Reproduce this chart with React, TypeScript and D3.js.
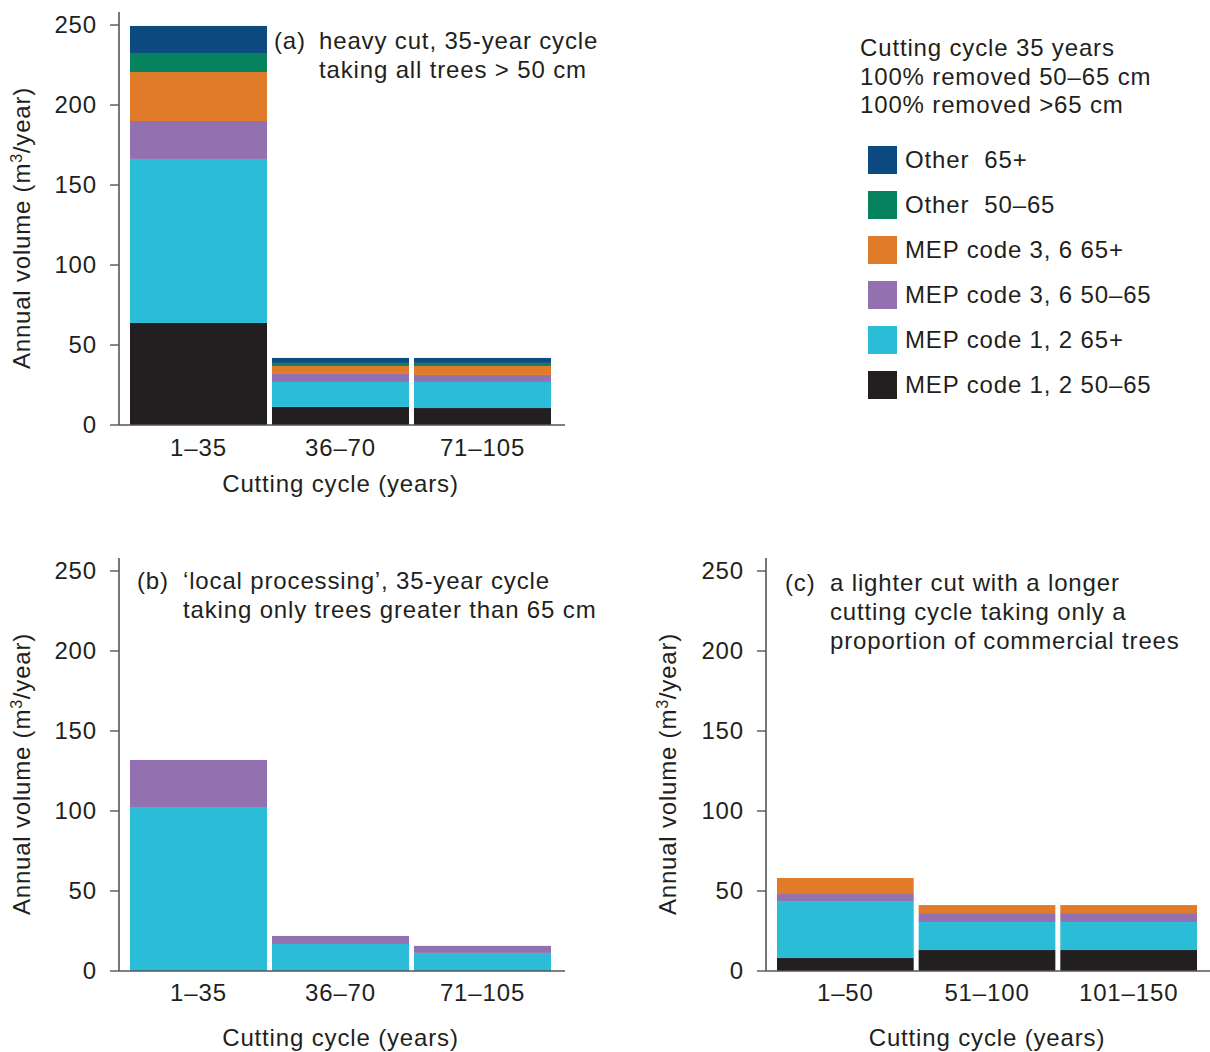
import React from 'react';
import * as d3 from 'd3';

// ---------- data ----------
const seriesKeys = ['mep12_50_65', 'mep12_65', 'mep36_50_65', 'mep36_65', 'other_50_65', 'other_65'];
const seriesNames = ['MEP code 1, 2 50–65', 'MEP code 1, 2 65+', 'MEP code 3, 6 50–65', 'MEP code 3, 6 65+', 'Other  50–65', 'Other  65+'];
const seriesColors = ['#231f20', '#2bbdd7', '#9370b0', '#e07b29', '#06825f', '#0d4a80'];

const yTicks = [0, 50, 100, 150, 200, 250];

// panel (a)
const catsA = ['1–35', '36–70', '71–105'];
const a_mep12_50_65 = [63.8, 11.3, 10.6];
const a_mep12_65 = [102.5, 15.6, 16.3];
const a_mep36_50_65 = [23.7, 5.0, 4.4];
const a_mep36_65 = [30.6, 5.0, 5.6];
const a_other_50_65 = [11.9, 1.9, 1.9];
const a_other_65 = [16.9, 3.1, 3.1];

// panel (b)
const catsB = ['1–35', '36–70', '71–105'];
const b_mep12_50_65 = [0, 0, 0];
const b_mep12_65 = [102.5, 16.9, 11.3];
const b_mep36_50_65 = [29.4, 5.0, 4.4];
const b_mep36_65 = [0, 0, 0];
const b_other_50_65 = [0, 0, 0];
const b_other_65 = [0, 0, 0];

// panel (c)
const catsC = ['1–50', '51–100', '101–150'];
const c_mep12_50_65 = [8.1, 13.1, 13.1];
const c_mep12_65 = [35.6, 17.5, 17.5];
const c_mep36_50_65 = [4.4, 5.6, 5.6];
const c_mep36_65 = [10.0, 5.0, 5.0];
const c_other_50_65 = [0, 0, 0];
const c_other_65 = [0, 0, 0];

const titleA = ['heavy cut, 35-year cycle', 'taking all trees > 50 cm'];
const titleB = ['‘local processing’, 35-year cycle', 'taking only trees greater than 65 cm'];
const titleC = ['a lighter cut with a longer', 'cutting cycle taking only a', 'proportion of commercial trees'];
const legendHeader = ['Cutting cycle 35 years', '100% removed 50–65 cm', '100% removed >65 cm'];
const xTitle = 'Cutting cycle (years)';

// ---------- style ----------
const FONT = '"Liberation Sans", Arial, Helvetica, sans-serif';
const TXT = '#231f20';
const FS = 24;
const LS = 0.85;
const AXIS = '#555';

type PanelCfg = {
  cats: string[];
  values: number[][];
  axisX: number;
  axisRight: number;
  y0: number;
  band: [number, number];
  tag: string;
  tagX: number;
  titleX: number;
  title: string[];
  titleY: number;
  catLabelY: number;
  xTitleY: number;
  yTitleX: number;
};

function Panel({ p }: { p: PanelCfg }) {
  const y = d3.scaleLinear().domain([0, 250]).range([p.y0, p.y0 - 400]);
  const x = d3.scaleBand<string>().domain(p.cats).range(p.band).paddingInner(0.035).paddingOuter(0.0176);
  const rows = p.cats.map((c, i) => {
    const r: any = { cat: c };
    seriesKeys.forEach((k, j) => (r[k] = p.values[j][i]));
    return r;
  });
  const stacked = d3.stack<any>().keys(seriesKeys)(rows);
  const yMid = (y(0) + y(250)) / 2;
  return (
    <g>
      {stacked.map((s, si) => (
        <g key={si} fill={seriesColors[si]}>
          {s.map((d, di) =>
            d[1] - d[0] > 0 ? (
              <rect key={di} x={x(p.cats[di])} width={x.bandwidth()} y={y(d[1])} height={y(d[0]) - y(d[1])} />
            ) : null
          )}
        </g>
      ))}
      {/* y axis */}
      <line x1={p.axisX} x2={p.axisX} y1={p.y0} y2={y(250) - 13} stroke={AXIS} strokeWidth={1.6} />
      {yTicks.map((t) => (
        <g key={t}>
          <line x1={p.axisX - 9} x2={p.axisX} y1={y(t)} y2={y(t)} stroke={AXIS} strokeWidth={1.4} />
          <text x={p.axisX - 22} y={y(t)} dy="0.34em" textAnchor="end" fontSize={FS} letterSpacing={LS} fill={TXT}>
            {t}
          </text>
        </g>
      ))}
      {/* x axis */}
      <line x1={p.axisX} x2={p.axisRight} y1={p.y0} y2={p.y0} stroke={AXIS} strokeWidth={1.6} />
      {p.cats.map((c) => (
        <text key={c} x={(x(c) as number) + x.bandwidth() / 2} y={p.catLabelY} textAnchor="middle" fontSize={FS} letterSpacing={LS} fill={TXT}>
          {c}
        </text>
      ))}
      <text x={(x(p.cats[1]) as number) + x.bandwidth() / 2} y={p.xTitleY} textAnchor="middle" fontSize={FS} letterSpacing={LS} fill={TXT}>
        {xTitle}
      </text>
      <text transform={`translate(${p.yTitleX},${yMid + 3}) rotate(-90)`} textAnchor="middle" fontSize={24} letterSpacing={0.8} fill={TXT}>
        Annual volume (m<tspan fontSize={16} baselineShift="super">3</tspan>/year)
      </text>
      {/* panel title */}
      <text x={p.tagX} y={p.titleY} fontSize={FS} letterSpacing={LS} fill={TXT}>
        {p.tag}
      </text>
      {p.title.map((t, i) => (
        <text key={i} x={p.titleX} y={p.titleY + i * 29} fontSize={FS} letterSpacing={LS} fill={TXT}>
          {t}
        </text>
      ))}
    </g>
  );
}

export default function App() {
  const panels: PanelCfg[] = [
    {
      cats: catsA,
      values: [a_mep12_50_65, a_mep12_65, a_mep36_50_65, a_mep36_65, a_other_50_65, a_other_65],
      axisX: 119, axisRight: 565, y0: 425, band: [127.5, 553.5],
      tag: '(a)', tagX: 274, titleX: 319, title: titleA, titleY: 49,
      catLabelY: 456, xTitleY: 492, yTitleX: 30,
    },
    {
      cats: catsB,
      values: [b_mep12_50_65, b_mep12_65, b_mep36_50_65, b_mep36_65, b_other_50_65, b_other_65],
      axisX: 119, axisRight: 565, y0: 971, band: [127.5, 553.5],
      tag: '(b)', tagX: 137, titleX: 183, title: titleB, titleY: 589,
      catLabelY: 1001, xTitleY: 1046, yTitleX: 30,
    },
    {
      cats: catsC,
      values: [c_mep12_50_65, c_mep12_65, c_mep36_50_65, c_mep36_65, c_other_50_65, c_other_65],
      axisX: 766, axisRight: 1210, y0: 971, band: [774.5, 1199.5],
      tag: '(c)', tagX: 785, titleX: 830, title: titleC, titleY: 591,
      catLabelY: 1001, xTitleY: 1046, yTitleX: 676,
    },
  ];
  const legendOrder = [5, 4, 3, 2, 1, 0];
  return (
    <svg width={1210} height={1052} style={{ position: 'absolute', left: 0, top: 0, fontFamily: FONT }}>
      <rect width={1210} height={1052} fill="#fff" />
      {panels.map((p, i) => (
        <Panel key={i} p={p} />
      ))}
      {legendHeader.map((t, i) => (
        <text key={i} x={860} y={56 + i * 28.5} fontSize={FS} letterSpacing={LS} fill={TXT}>
          {t}
        </text>
      ))}
      {legendOrder.map((si, i) => (
        <g key={si}>
          <rect x={868} y={146 + i * 45} width={29} height={28} fill={seriesColors[si]} />
          <text x={905} y={168 + i * 45} fontSize={FS} letterSpacing={LS} fill={TXT} style={{ whiteSpace: 'pre' }}>
            {seriesNames[si]}
          </text>
        </g>
      ))}
    </svg>
  );
}
